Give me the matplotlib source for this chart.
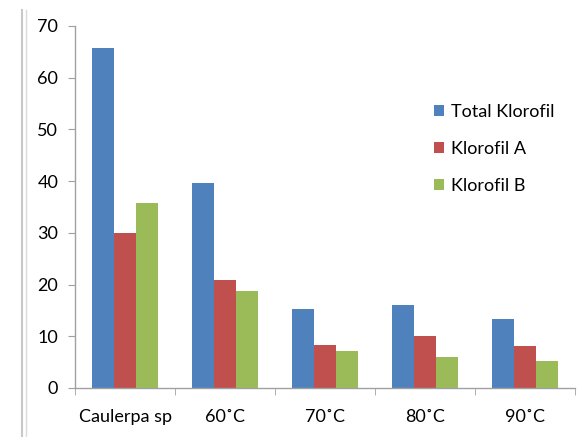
import numpy as np
import matplotlib
matplotlib.use("Agg")
import matplotlib.pyplot as plt
from matplotlib.patches import Patch
from matplotlib.lines import Line2D

categories = ["Caulerpa sp", "60˚C", "70˚C", "80˚C", "90˚C"]
total_klorofil = [65.8, 39.6, 15.3, 16.1, 13.4]
klorofil_a = [30.0, 20.9, 8.3, 10.0, 8.1]
klorofil_b = [35.8, 18.8, 7.1, 6.0, 5.2]
series_names = ["Total Klorofil", "Klorofil A", "Klorofil B"]
colors = ["#4F81BD", "#C0504D", "#9BBB59"]

plt.rcParams['font.family'] = ['Lato', 'DejaVu Sans']

fig = plt.figure(figsize=(5.77, 4.37), dpi=100)
ax = fig.add_axes([75/577, (437-388)/437, 500/577, 362/437])

x = np.arange(len(categories))
w = 0.22
for i, (vals, c) in enumerate(zip([total_klorofil, klorofil_a, klorofil_b], colors)):
    ax.bar(x + (i - 1) * w, vals, w, color=c, edgecolor='none')

ax.set_xlim(-0.5, len(categories) - 0.5)
ax.set_ylim(0, 70)
ax.set_yticks(range(0, 71, 10))
ax.set_xticks(x)
ax.set_xticklabels(categories, fontsize=13)
ax.set_xticks(np.arange(-0.5, len(categories)), minor=True)
ax.tick_params(axis='x', which='major', length=0, pad=15)
ax.tick_params(axis='x', which='minor', length=5, color='#A0A0A0', direction='out')
ax.tick_params(axis='y', length=5, color='#A0A0A0', labelsize=13, pad=7)

for s in ['top', 'right']:
    ax.spines[s].set_visible(False)
for s in ['left', 'bottom']:
    ax.spines[s].set_color('#A0A0A0')
    ax.spines[s].set_linewidth(1)

handles = [Patch(facecolor=c, edgecolor='none') for c in colors]
fig.legend(handles, series_names, loc='upper left', bbox_to_anchor=(434/577, 1 - 104/437),
           frameon=False, fontsize=13, handlelength=0.55, handleheight=0.55,
           handletextpad=0.4, labelspacing=1.15, borderpad=0, borderaxespad=0)

# window frame at the left edge
fig.add_artist(Line2D([22/577, 22/577], [0, 1 - 10/437], color='#C8C8C8', lw=1.5))
fig.add_artist(Line2D([26/577, 26/577], [0, 1 - 10/437], color='#DADADA', lw=1))

fig.savefig("out.png", dpi=100)
